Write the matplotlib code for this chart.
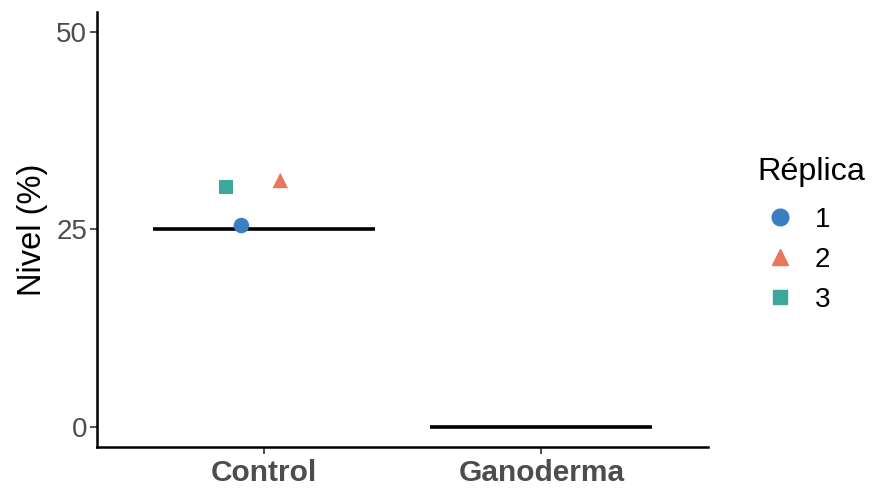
import matplotlib.pyplot as plt
from matplotlib.lines import Line2D

plt.rcParams['font.family'] = ['Liberation Sans', 'DejaVu Sans']

groups = ["Control", "Ganoderma"]
summary = [25.0, 0.0]

replicas = ["1", "2", "3"]
rep_group = [0, 0, 0]
rep_offset = [-0.08, 0.06, -0.135]   # jitter
rep_value = [25.5, 31.2, 30.4]
rep_marker = ["o", "^", "s"]
rep_color = ["#3A7FC1", "#E8785C", "#3BA89C"]

fig = plt.figure(figsize=(8.72, 4.9), dpi=100)
ax = fig.add_axes([0.1112, 0.0878, 0.7007, 0.8877])

for i, v in enumerate(summary):
    ax.plot([i - 0.4, i + 0.4], [v, v], color="black", lw=2.6, solid_capstyle="butt", zorder=2)

for g, off, v, m, c in zip(rep_group, rep_offset, rep_value, rep_marker, rep_color):
    ax.scatter(g + off, v, marker=m, s=125 if m != "s" else 105, color=c, edgecolors="none", zorder=3)

ax.set_xlim(-0.6, 1.6)
ax.set_ylim(-2.5, 52.5)
ax.set_xticks(range(len(groups)))
ax.set_xticklabels(groups, fontsize=21.5, fontweight="bold")
ax.set_yticks([0, 25, 50])
ax.tick_params(axis="y", labelsize=20, length=5, width=1.2, pad=2, colors="#333333")
ax.tick_params(axis="x", length=5, width=1.2, pad=4, colors="#333333")
for lab in ax.get_xticklabels() + ax.get_yticklabels():
    lab.set_color("#4D4D4D")
ax.set_ylabel("Nivel (%)", fontsize=23.5, labelpad=6)
for s in ["top", "right"]:
    ax.spines[s].set_visible(False)
for s in ["left", "bottom"]:
    ax.spines[s].set_linewidth(1.8)

# legend: title placed as its own text so the gap to the keys matches
fig.text(0.869, 0.649, "Réplica", fontsize=23.3, ha="left", va="center")
handles = [Line2D([], [], marker=m, color=c, ls="none", markersize=12 if m != "s" else 10.5)
           for m, c in zip(rep_marker, rep_color)]
fig.legend(handles, replicas, loc="upper left", bbox_to_anchor=(0.869, 0.578),
           frameon=False, fontsize=20, labelspacing=0.5, borderaxespad=0,
           handletextpad=0.45, handlelength=1.6, borderpad=0)

fig.savefig("out.png", dpi=100)
